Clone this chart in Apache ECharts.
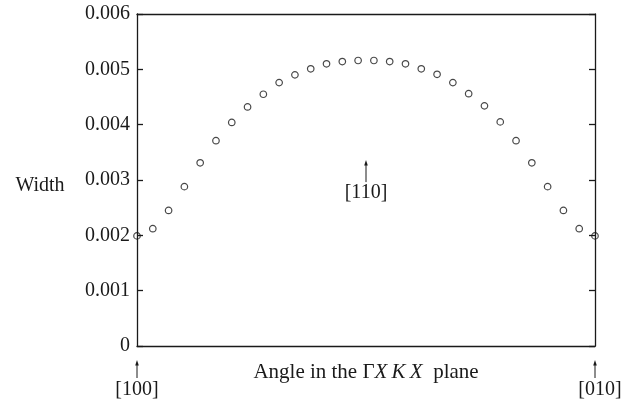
<!DOCTYPE html>
<html>
<head>
<meta charset="utf-8">
<script src="https://cdn.jsdelivr.net/npm/echarts@6/dist/echarts.min.js"></script>
<style>
  html, body { margin: 0; padding: 0; background: #fff; }
  #chart { width: 626px; height: 404px; }
</style>
</head>
<body>
<div id="chart"></div>
<script>
// Width along the angle sweep from [100] through [110] to [010]
const widths = [
  0.00199, 0.00212, 0.00245, 0.00288, 0.00331, 0.00371, 0.00404, 0.00432,
  0.00455, 0.00476, 0.00490, 0.00501, 0.00510, 0.00514, 0.00516,
  0.00516, 0.00514, 0.00510, 0.00501, 0.00491, 0.00476, 0.00456, 0.00434,
  0.00405, 0.00371, 0.00331, 0.00288, 0.00245, 0.00212, 0.00199
];
const yTickLabels = ['0', '0.001', '0.002', '0.003', '0.004', '0.005', '0.006'];
const directions = ['[100]', '[110]', '[010]'];
const directionAt = [0, 14.5, 29];     // position along the sample axis
const yLabel = 'Width';

const FONT = '"Liberation Serif", "DejaVu Serif", serif';
const INK = '#1a1a1a';

const chart = echarts.init(document.getElementById('chart'), null, { renderer: 'canvas' });

const lineStyle = { color: INK, width: 1.3 };
const frameLine = { show: true, onZero: false, lineStyle };

chart.setOption({
  animation: false,
  backgroundColor: '#fff',
  grid: { left: 137, right: 31, top: 14, bottom: 58 },
  xAxis: [
    {
      type: 'value', position: 'bottom', min: 0, max: widths.length - 1,
      axisLine: frameLine, axisTick: { show: false },
      axisLabel: { show: false }, splitLine: { show: false },
      name: '{a|Angle in the Γ}{i|X\u2009K\u2009X}{a|  plane}',
      nameLocation: 'middle', nameGap: 16,
      nameTextStyle: {
        rich: {
          a: { fontFamily: FONT, fontSize: 21, color: INK },
          i: { fontFamily: FONT, fontSize: 21, fontStyle: 'italic', color: INK }
        }
      }
    },
    {
      type: 'value', position: 'top', min: 0, max: widths.length - 1,
      axisLine: frameLine, axisTick: { show: false },
      axisLabel: { show: false }, splitLine: { show: false }
    }
  ],
  yAxis: [
    {
      type: 'value', position: 'left', min: 0, max: 0.006, interval: 0.001,
      axisLine: frameLine,
      axisTick: { show: true, inside: true, length: 6, lineStyle },
      axisLabel: {
        fontFamily: FONT, fontSize: 20, color: INK, margin: 7,
        formatter: (v) => yTickLabels[Math.round(v * 1000)]
      },
      splitLine: { show: false }
    },
    {
      type: 'value', position: 'right', min: 0, max: 0.006, interval: 0.001,
      axisLine: frameLine,
      axisTick: { show: true, inside: true, length: 6, lineStyle },
      axisLabel: { show: false }, splitLine: { show: false }
    }
  ],
  series: [{
    type: 'scatter',
    xAxisIndex: 0, yAxisIndex: 0,
    data: widths.map((w, i) => [i, w]),
    symbol: 'circle',
    symbolSize: 6.5,
    itemStyle: { color: 'rgba(255,255,255,0)', borderColor: INK, borderWidth: 1.2 },
    z: 5
  }]
});

// Direction markers: an arrow pointing up with the direction label beneath it
function arrow(x, yTip, yBase) {
  return [
    { type: 'line', shape: { x1: x, y1: yTip + 3, x2: x, y2: yBase },
      style: { stroke: INK, lineWidth: 1 }, silent: true },
    { type: 'polygon', shape: { points: [[x, yTip], [x - 1.8, yTip + 5.5], [x + 1.8, yTip + 5.5]] },
      style: { fill: INK }, silent: true }
  ];
}
function label(text, x, y) {
  return { type: 'text', x, y, silent: true,
    style: { text, fontFamily: FONT, fontSize: 20, fill: INK, align: 'center', verticalAlign: 'middle' } };
}

const gr = [];
const axisY = chart.convertToPixel({ yAxisIndex: 0 }, 0);
directions.forEach((d, k) => {
  const px = chart.convertToPixel({ xAxisIndex: 0 }, directionAt[k]);
  if (k === 1) {
    // the [110] marker sits inside the plot, below the peak
    const tip = chart.convertToPixel({ yAxisIndex: 0 }, 0.00336);
    gr.push(...arrow(px, tip, tip + 22));
    gr.push(label(d, px, tip + 33));
  } else {
    gr.push(...arrow(px, axisY + 14, axisY + 32));
    gr.push(label(d, px + (k === 2 ? 5 : 0), axisY + 44));
  }
});
const midY = chart.convertToPixel({ yAxisIndex: 0 }, 0.0029);
gr.push({ type: 'text', x: 40, y: midY, silent: true,
  style: { text: yLabel, fontFamily: FONT, fontSize: 20, fill: INK, align: 'center', verticalAlign: 'middle' } });

chart.setOption({ graphic: gr });
</script>
</body>
</html>
